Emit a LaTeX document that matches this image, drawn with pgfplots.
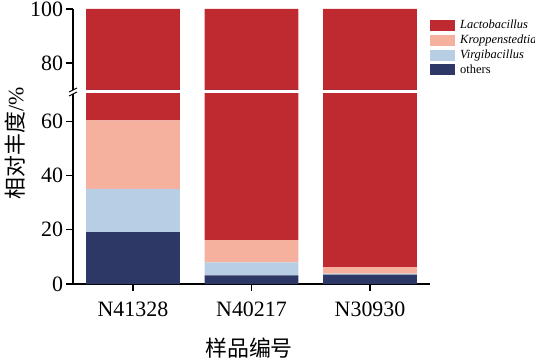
\documentclass[border=0pt]{standalone}
\usepackage{pgfplots}
\pgfplotsset{compat=1.18}
\usepackage{pgfplotstable}
\usepackage{fontspec}
\setmainfont{Liberation Serif}
\newfontfamily\cjk{Noto Sans CJK SC}
\definecolor{lacto}{HTML}{BE2A30}
\definecolor{kropp}{HTML}{F5B09E}
\definecolor{virgi}{HTML}{B8CEE4}
\definecolor{others}{HTML}{2E3866}
\pgfplotstableread{
x others virgi kropp lacto
0 19.1 15.9 25.3 39.7
1 3.2 4.8 8.2 83.8
2 3.5 0.3 2.45 93.75
}\data
\pgfplotsset{mybar/.style={
  scale only axis, width=357bp,
  xmin=-0.506, xmax=2.506,
  ybar stacked, bar width=0.79,
  ticklabel style={font=\fontsize{22}{24}\selectfont},
  /pgf/number format/assume math mode=true,
}, fixlines/.style={
  axis line style={-, line width=1.2bp},
  tick style={line width=1.2bp, black},
  tick align=outside,
  major tick length=6.5bp,
}}
\begin{document}
\begin{tikzpicture}
\useasboundingbox (-73bp,-76bp) rectangle (462bp,284bp);
\begin{axis}[mybar, height=190bp, ymin=0, ymax=70, ytick={0,20,40,60},
  axis x line*=bottom, axis y line*=left, fixlines,
  xtick={0,1,2}, xticklabels={N41328,N40217,N30930},
  xtick pos=bottom, ytick pos=left,
  xticklabel style={yshift=-8bp}]
\addplot[fill=others, draw=none] table[x=x,y=others]{\data};
\addplot[fill=virgi, draw=none] table[x=x,y=virgi]{\data};
\addplot[fill=kropp, draw=none] table[x=x,y=kropp]{\data};
\addplot[fill=lacto, draw=none] table[x=x,y=lacto]{\data};
\end{axis}
\begin{axis}[mybar, at={(0,194bp)}, height=81bp, ymin=70, ymax=100, ytick={80,100},
  axis x line=none, axis y line*=left, fixlines, ytick pos=left, xtick=\empty,
  reverse legend,
  legend style={at={(rel axis cs:1.0,0.89)}, anchor=north west, draw=none, fill=none,
    inner sep=0pt, font=\fontsize{12.5}{14}\selectfont, row sep=0.8bp,
    nodes={inner xsep=5bp}},
  legend cell align=left,
  legend image code/.code={\fill[#1] (0bp,-5.5bp) rectangle (25bp,5.5bp);}]
\addplot[fill=others, draw=none] table[x=x,y=others]{\data};
\addlegendentry{others}
\addplot[fill=virgi, draw=none] table[x=x,y=virgi]{\data};
\addlegendentry{\itshape Virgibacillus}
\addplot[fill=kropp, draw=none] table[x=x,y=kropp]{\data};
\addlegendentry{\itshape Kroppenstedtia}
\addplot[fill=lacto, draw=none] table[x=x,y=lacto]{\data};
\addlegendentry{\itshape Lactobacillus}
\end{axis}
\draw[line width=1.2bp] (60bp,0bp) -- (60bp,-6.5bp);
\draw[line width=1.2bp] (178.5bp,0bp) -- (178.5bp,-6.5bp);
\draw[line width=1.2bp] (297bp,0bp) -- (297bp,-6.5bp);
\draw[line width=1bp] (-4bp,188bp) -- (4bp,192bp);
\draw[line width=1bp] (-4bp,192bp) -- (4bp,196bp);
\node[rotate=90, font=\fontsize{22}{24}\selectfont] at (-58bp,141bp) {{\cjk 相对丰度}/\%};
\node[font=\cjk\fontsize{22}{24}\selectfont] at (176bp,-64bp) {样品编号};
\end{tikzpicture}
\end{document}
